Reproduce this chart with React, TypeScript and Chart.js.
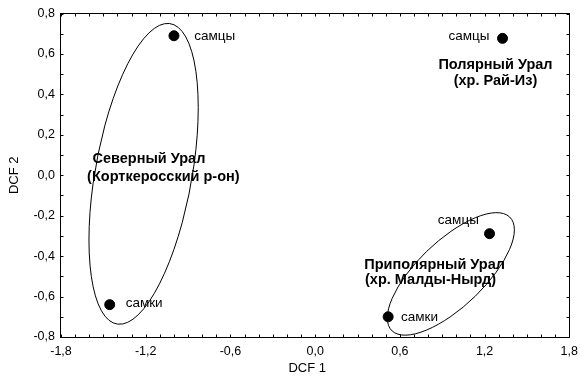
import React, { useEffect, useRef } from 'react';
import { Chart, registerables } from 'chart.js';

Chart.register(...registerables);

// Group centroids (DCF 1, DCF 2)
const pointX = [-1.0, -1.455, 1.327, 1.235, 0.517];
const pointY = [0.69, -0.64, 0.677, -0.289, -0.70];

// Axis ticks
const xTicks = [-1.8, -1.2, -0.6, 0.0, 0.6, 1.2, 1.8];
const yTicks = [-0.8, -0.6, -0.4, -0.2, 0.0, 0.2, 0.4, 0.6, 0.8];

// Group ellipses (centre, half extents, correlation)
const ellipseCX = [-1.215, 0.961];
const ellipseCY = [0.007, -0.488];
const ellipseRX = [0.387, 0.45];
const ellipseRY = [0.744, 0.303];
const ellipseRho = [0.44, 0.72];

// Text annotations
const labelText = [
  'самцы', 'самки', 'самцы', 'самцы', 'самки',
  'Северный Урал', '(Корткеросский р-он)',
  'Полярный Урал', '(хр. Рай-Из)',
  'Приполярный Урал', '(хр. Малды-Нырд)',
];
const labelX = [-0.856, -1.342, 0.944, 0.869, 0.608, -1.577, -1.615, 1.277, 1.277, 0.348, 0.353];
const labelY = [0.687, -0.633, 0.687, -0.225, -0.702, 0.081, -0.011, 0.547, 0.465, -0.446, -0.520];
const labelBold = [false, false, false, false, false, true, true, true, true, true, true];
const labelAlign = ['left', 'left', 'left', 'left', 'left', 'left', 'left', 'center', 'center', 'left', 'left'];

const FONT = '"Liberation Sans", Arial, sans-serif';
const fmt = (v: number) => Number(v).toFixed(1).replace('.', ',');

const decorPlugin = {
  id: 'decor',
  beforeDatasetsDraw(chart: any) {
    const { ctx, scales } = chart;
    const xs = scales.x;
    const ys = scales.y;
    ctx.save();
    ctx.strokeStyle = '#000';
    ctx.lineWidth = 1;
    for (let i = 0; i < ellipseCX.length; i++) {
      const px = xs.getPixelForValue(ellipseCX[i]);
      const py = ys.getPixelForValue(ellipseCY[i]);
      const hx = Math.abs(xs.getPixelForValue(ellipseCX[i] + ellipseRX[i]) - px);
      const hy = Math.abs(ys.getPixelForValue(ellipseCY[i] + ellipseRY[i]) - py);
      const rho = -ellipseRho[i];
      ctx.save();
      ctx.translate(px, py);
      ctx.transform(hx, rho * hy, 0, hy * Math.sqrt(1 - rho * rho), 0, 0);
      ctx.beginPath();
      ctx.arc(0, 0, 1, 0, Math.PI * 2);
      ctx.restore();
      ctx.stroke();
    }
    ctx.restore();
  },
  afterDatasetsDraw(chart: any) {
    const { ctx, scales, chartArea } = chart;
    const xs = scales.x;
    const ys = scales.y;
    const { left, right, top, bottom } = chartArea;
    ctx.save();
    // frame
    ctx.strokeStyle = '#000';
    ctx.lineWidth = 1;
    const L = Math.round(left) - 0.5;
    const R = Math.round(right) + 0.5;
    const T = Math.round(top) - 0.5;
    const B = Math.round(bottom) + 0.5;
    ctx.strokeRect(L, T, R - L, B - T);
    // minor ticks every 0.1, inward
    ctx.beginPath();
    const tl = 3;
    for (let k = -18; k <= 18; k++) {
      const x = Math.round(xs.getPixelForValue(k / 10)) + 0.5;
      ctx.moveTo(x, B);
      ctx.lineTo(x, B - tl);
      ctx.moveTo(x, T);
      ctx.lineTo(x, T + tl);
    }
    for (let k = -8; k <= 8; k++) {
      const y = Math.round(ys.getPixelForValue(k / 10)) + 0.5;
      ctx.moveTo(L, y);
      ctx.lineTo(L + tl, y);
      ctx.moveTo(R, y);
      ctx.lineTo(R - tl, y);
    }
    ctx.stroke();
    // labels
    ctx.fillStyle = '#000';
    ctx.textBaseline = 'middle';
    for (let i = 0; i < labelText.length; i++) {
      ctx.font = (labelBold[i] ? 'bold 14.5px ' : '13.5px ') + FONT;
      ctx.textAlign = labelAlign[i];
      ctx.fillText(labelText[i], xs.getPixelForValue(labelX[i]), ys.getPixelForValue(labelY[i]));
    }
    // x title
    ctx.font = '13px ' + FONT;
    ctx.textAlign = 'center';
    ctx.fillText('DCF 1', (left + right) / 2 - 8, bottom + 31);
    ctx.restore();
  },
};

export default function App() {
  const ref = useRef<HTMLCanvasElement | null>(null);
  useEffect(() => {
    document.body.style.margin = '0';
    const canvas = ref.current;
    if (!canvas) return;
    Chart.defaults.font.family = FONT;
    Chart.defaults.color = '#000';
    const chart = new Chart(canvas, {
      type: 'scatter',
      data: {
        datasets: [
          {
            data: pointX.map((x, i) => ({ x, y: pointY[i] })),
            backgroundColor: '#000',
            borderColor: '#000',
            pointRadius: 5,
            pointHoverRadius: 5,
          },
        ],
      },
      options: {
        animation: false,
        responsive: false,
        devicePixelRatio: 1,
        events: [],
        layout: { padding: { top: 12, right: 13, left: 0, bottom: 0 } },
        plugins: { legend: { display: false }, tooltip: { enabled: false } },
        scales: {
          x: {
            type: 'linear',
            min: -1.8,
            max: 1.8,
            grid: { display: false, drawTicks: false },
            border: { display: false },
            afterBuildTicks: (s: any) => {
              s.ticks = xTicks.map((v) => ({ value: v }));
            },
            afterFit: (s: any) => {
              s.height = 42;
            },
            ticks: {
              font: { size: 12.5, family: FONT },
              color: '#000',
              padding: 7,
              maxRotation: 0,
              autoSkip: false,
              callback: (v: any) => fmt(v),
            },
          },
          y: {
            type: 'linear',
            min: -0.8,
            max: 0.8,
            grid: { display: false, drawTicks: false },
            border: { display: false },
            afterBuildTicks: (s: any) => {
              s.ticks = yTicks.map((v) => ({ value: v }));
            },
            afterFit: (s: any) => {
              s.width = 61;
            },
            title: {
              display: true,
              text: 'DCF 2',
              color: '#000',
              font: { size: 13, family: FONT },
              padding: { top: 7, bottom: 0 },
            },
            ticks: {
              font: { size: 12.5, family: FONT },
              color: '#000',
              padding: 6,
              autoSkip: false,
              callback: (v: any) => fmt(v),
            },
          },
        },
      },
      plugins: [decorPlugin],
    });
    return () => chart.destroy();
  }, []);
  return (
    <div style={{ position: 'absolute', left: 0, top: 0, width: 585, height: 379, background: '#fff' }}>
      <canvas ref={ref} width={585} height={379} style={{ display: 'block' }} />
    </div>
  );
}
